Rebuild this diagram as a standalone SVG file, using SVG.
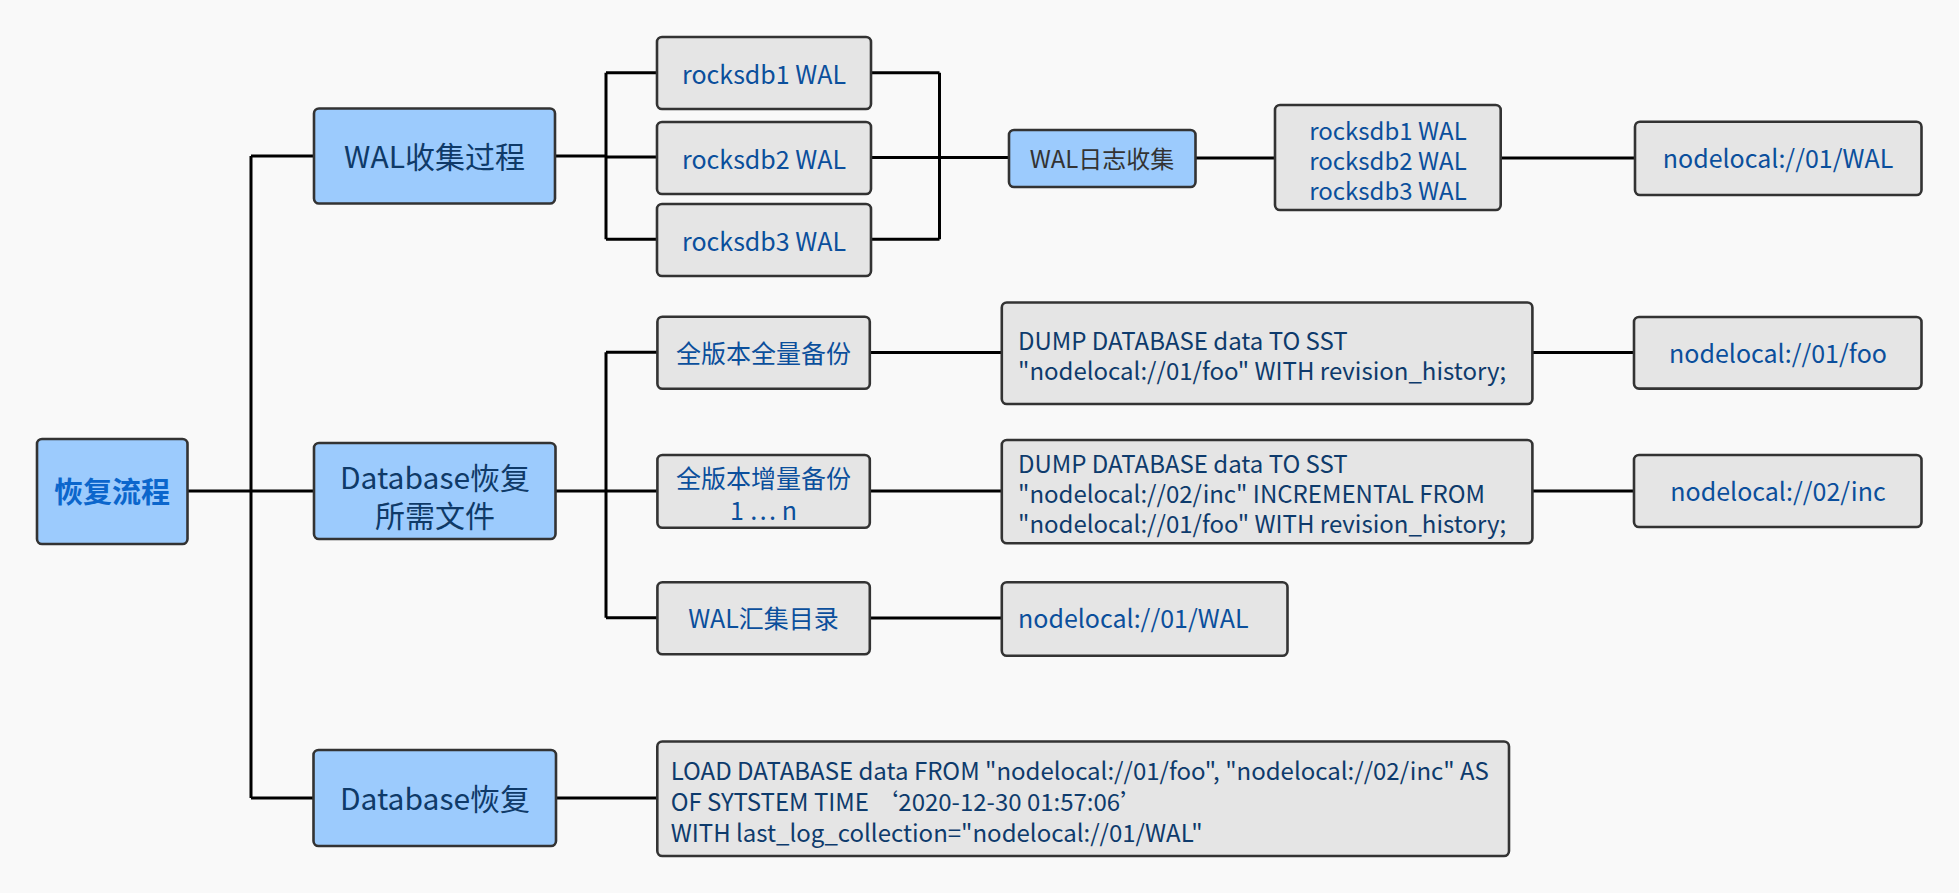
<svg xmlns="http://www.w3.org/2000/svg" width="1959" height="893" viewBox="0 0 1959 893">
<style>
.bg{fill:#f9f9f9}
.blue{fill:#9ccbfd;stroke:#333;stroke-width:2.6}
.gray{fill:#e5e5e5;stroke:#333;stroke-width:2.6}
.cn{fill:none;stroke:#000;stroke-width:3}
text{font-family:"Noto Sans CJK SC","Noto Sans",sans-serif}
.tb{font-size:30px;fill:#0f3a68;text-anchor:middle}
.root{font-size:29px;font-weight:bold;fill:#0b66cc;text-anchor:middle}
.tg{font-size:25px;fill:#0b4f9c;text-anchor:middle}
.tm{font-size:24px;fill:#0b4f9c;text-anchor:middle}
.tw{font-size:24px;fill:#333;text-anchor:middle}
.td{font-size:24px;fill:#0e3b6c}
.tl{font-size:25px;fill:#0b4f9c}
</style>
<rect class="bg" x="0" y="0" width="1959" height="893"/>
<g id="connectors">
<path class="cn" d="M187.5,491H314M251,156V798M251,156H314M251,798H314"/>
<path class="cn" d="M555,156H606M606,72.7V239.3M606,72.7H657M606,157H657M606,239.3H657"/>
<path class="cn" d="M871,72.7H939.5M871,239.3H939.5M939.5,72.7V239.3M871,157.5H1009"/>
<path class="cn" d="M1195,158H1275M1500.7,158H1635"/>
<path class="cn" d="M555,491H606M606,352.3V617.7M606,352.3H657M606,491H657M606,617.7H657"/>
<path class="cn" d="M870,352.5H1002M1532.4,352.5H1634M870,491H1002M1532.4,491H1634M870,618H1002M556,798H657"/>
</g>
<g id="n-root"><rect class="blue" x="37" y="439" width="150.5" height="105" rx="5"/><text class="root" x="112" y="503">恢复流程</text></g>
<g id="n-walcollect"><rect class="blue" x="314" y="108.5" width="241" height="95" rx="5"/><text class="tb" x="434.5" y="168">WAL收集过程</text></g>
<g id="n-dbfiles"><rect class="blue" x="314" y="443" width="241.5" height="96" rx="5"/><text class="tb" x="435" y="489">Database恢复<tspan x="435" y="527">所需文件</tspan></text></g>
<g id="n-dbrestore"><rect class="blue" x="313.5" y="750" width="242.5" height="96" rx="5"/><text class="tb" x="435" y="810">Database恢复</text></g>
<g id="n-r1"><rect class="gray" x="657" y="37" width="214" height="72" rx="5"/><text class="tg" x="764" y="84">rocksdb1 WAL</text></g>
<g id="n-r2"><rect class="gray" x="657" y="122" width="214" height="72" rx="5"/><text class="tg" x="764" y="169">rocksdb2 WAL</text></g>
<g id="n-r3"><rect class="gray" x="657" y="204" width="214" height="72" rx="5"/><text class="tg" x="764" y="251">rocksdb3 WAL</text></g>
<g id="n-wallog"><rect class="blue" x="1009" y="130" width="186.5" height="57" rx="5"/><text class="tw" x="1102" y="168">WAL日志收集</text></g>
<g id="n-rall"><rect class="gray" x="1275" y="105" width="225.7" height="105" rx="5"/><text class="tm" x="1388" y="140">rocksdb1 WAL<tspan x="1388" y="170">rocksdb2 WAL</tspan><tspan x="1388" y="200">rocksdb3 WAL</tspan></text></g>
<g id="n-wal1"><rect class="gray" x="1635" y="121.7" width="286.5" height="73.3" rx="5"/><text class="tg" x="1778" y="168">nodelocal://01/WAL</text></g>
<g id="n-full"><rect class="gray" x="657.4" y="316.7" width="212.4" height="72" rx="5"/><text class="tg" x="763.5" y="362.5">全版本全量备份</text></g>
<g id="n-dump1"><rect class="gray" x="1001.8" y="302.5" width="530.6" height="101.5" rx="5"/><text class="td" x="1018" y="350">DUMP DATABASE data TO SST<tspan x="1018" y="380">"nodelocal://01/foo" WITH revision_history;</tspan></text></g>
<g id="n-foo"><rect class="gray" x="1634" y="317" width="287.5" height="71.6" rx="5"/><text class="tg" x="1778" y="363">nodelocal://01/foo</text></g>
<g id="n-inc"><rect class="gray" x="657.4" y="455" width="212.4" height="72.7" rx="5"/><text class="tg" x="763.5" y="488">全版本增量备份</text><text class="tg" x="763.5" y="520">1 … n</text></g>
<g id="n-dump2"><rect class="gray" x="1001.8" y="440" width="530.6" height="103.3" rx="5"/><text class="td" x="1018" y="473">DUMP DATABASE data TO SST<tspan x="1018" y="503">"nodelocal://02/inc" INCREMENTAL FROM</tspan><tspan x="1018" y="533">"nodelocal://01/foo" WITH revision_history;</tspan></text></g>
<g id="n-inc2"><rect class="gray" x="1634" y="455" width="287.5" height="72" rx="5"/><text class="tg" x="1778" y="501">nodelocal://02/inc</text></g>
<g id="n-waldir"><rect class="gray" x="657.4" y="582.3" width="212.4" height="72" rx="5"/><text class="tg" x="763.5" y="628">WAL汇集目录</text></g>
<g id="n-wal2"><rect class="gray" x="1001.8" y="582.3" width="285.7" height="73.4" rx="5"/><text class="tl" x="1018" y="628">nodelocal://01/WAL</text></g>
<g id="n-load"><rect class="gray" x="657.3" y="741.5" width="851.7" height="114.5" rx="5"/><text class="td" x="670.7" y="780">LOAD DATABASE data FROM "nodelocal://01/foo", "nodelocal://02/inc" AS<tspan x="670.7" y="811">OF SYTSTEM TIME   ‘2020-12-30 01:57:06’</tspan><tspan x="670.7" y="842">WITH last_log_collection="nodelocal://01/WAL"</tspan></text></g>
</svg>
